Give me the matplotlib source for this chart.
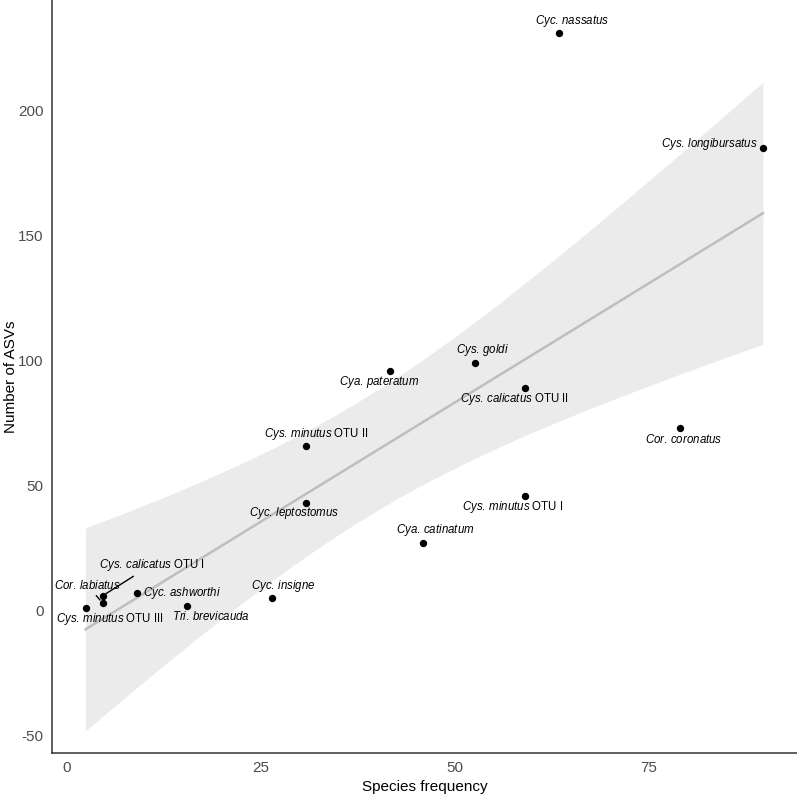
import numpy as np
import matplotlib
matplotlib.use('Agg')
import matplotlib.pyplot as plt

plt.rcParams['font.family'] = ['Liberation Sans', 'DejaVu Sans']
plt.rcParams['mathtext.fontset'] = 'custom'
plt.rcParams['mathtext.it'] = 'Liberation Sans:italic'
plt.rcParams['mathtext.rm'] = 'Liberation Sans'
plt.rcParams['axes.unicode_minus'] = False

# data
genus_species = ['Cyc. nassatus', 'Cys. longibursatus', 'Cys. goldi', 'Cya. pateratum',
                 'Cys. calicatus', 'Cor. coronatus', 'Cys. minutus', 'Cyc. leptostomus',
                 'Cys. minutus', 'Cya. catinatum', 'Cyc. insigne', 'Tri. brevicauda',
                 'Cyc. ashworthi', 'Cys. calicatus', 'Cor. labiatus', 'Cys. minutus']
otu = ['', '', '', '', 'OTU II', '', 'OTU II', '', 'OTU I', '', '', '', '', 'OTU I', '', 'OTU III']
freq = [63.5, 89.8, 52.6, 41.7, 59.1, 79.1, 30.8, 30.8, 59.1, 45.9, 26.4, 15.5, 9.0, 4.6, 4.6, 2.4]
asvs = [231, 185, 99, 96, 89, 73, 66, 43, 46, 27, 5, 2, 7, 6, 3, 1]

# label offsets (pixels), alignment, and whether a segment is drawn
offsets = [(13, 12, 'center'), (-5, 4, 'right'), (8, 13, 'center'), (-11, -11, 'center'),
           (-11, -11, 'center'), (4, -11, 'center'), (11, 12, 'center'), (-12, -10, 'center'),
           (-12, -11, 'center'), (13, 13, 'center'), (12, 12, 'center'), (24, -11, 'center'),
           (6, 0, 'left'), (49, 31, 'center'), (-15, 18, 'center'), (24, -11, 'center')]
segment = [False] * 13 + [True, True, False]

x = np.array(freq)
y = np.array(asvs, dtype=float)

# linear fit with 95% confidence band (like geom_smooth(method='lm'))
b, a = np.polyfit(x, y, 1)
xs = np.linspace(x.min(), x.max(), 100)
ys = a + b * xs
n = len(x)
resid = y - (a + b * x)
s = np.sqrt(np.sum(resid ** 2) / (n - 2))
sxx = np.sum((x - x.mean()) ** 2)
se = s * np.sqrt(1.0 / n + (xs - x.mean()) ** 2 / sxx)
t = 2.145  # t(0.975, df=14)

fig = plt.figure(figsize=(7.97, 7.96), dpi=100)
ax = fig.add_axes([0.0652, 0.054, 0.9348, 0.946])

ax.fill_between(xs, ys - t * se, ys + t * se, color='#EBEBEB', lw=0, zorder=1)
ax.plot(xs, ys, color='#BEBEBE', lw=1.8, zorder=2)
ax.scatter(x, y, s=28, color='black', zorder=3, linewidths=0)

for i in range(n):
    parts = genus_species[i].split(' ')
    lab = r'$\mathit{' + parts[0] + r'}\,\mathit{' + parts[1] + '}$'
    if otu[i]:
        lab += ' ' + otu[i]
    dx, dy, ha = offsets[i]
    kw = {}
    if segment[i]:
        kw['arrowprops'] = dict(arrowstyle='-', color='black', lw=1.0, shrinkA=1, shrinkB=3)
    ax.annotate(lab, (x[i], y[i]), xytext=(dx, dy), textcoords='offset pixels',
                ha=ha, va='center', fontsize=8.3, color='black', zorder=4, **kw)

ax.set_xlim(-1.94, 94.2)
ax.set_ylim(-56.9, 244.3)
ax.set_xticks([0, 25, 50, 75])
ax.set_yticks([-50, 0, 50, 100, 150, 200])
ax.tick_params(length=0, labelsize=11, labelcolor='#4D4D4D', pad=6)
for side in ['top', 'right']:
    ax.spines[side].set_visible(False)
for side in ['left', 'bottom']:
    ax.spines[side].set_color('#333333')
    ax.spines[side].set_linewidth(1.1)
ax.set_xlabel('Species frequency', fontsize=11, labelpad=3)
ax.set_ylabel('Number of ASVs', fontsize=11)
ax.yaxis.set_label_coords(-0.046, 0.5)

fig.savefig('out.png', dpi=100)
